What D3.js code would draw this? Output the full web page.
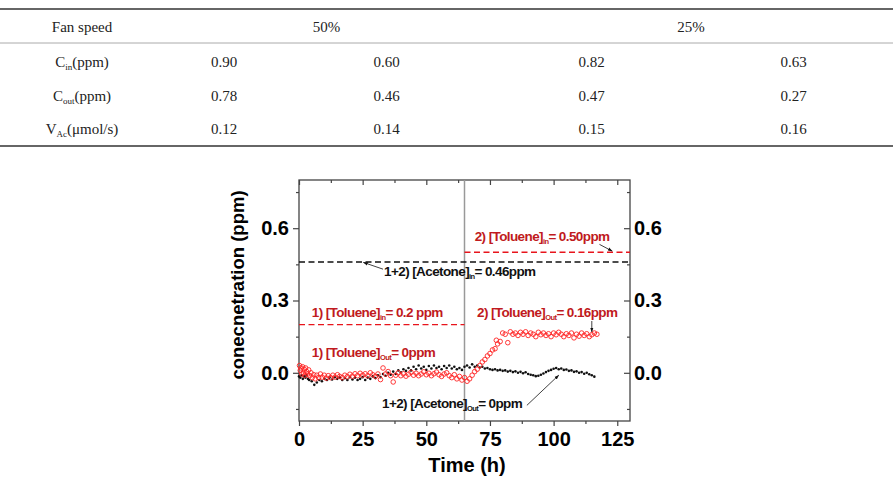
<!DOCTYPE html>
<meta charset="utf-8">
<body style="margin:0;background:#fff">
<script src="https://cdn.jsdelivr.net/npm/d3@7"></script>
<style>
svg { display:block; }
.tbl text { font-family: "Liberation Serif", "Times New Roman", serif; font-size: 15px; fill: #222; }
.ax text { font-family: "Liberation Sans", Arial, sans-serif; font-weight: bold; font-size: 20px; fill: #000; }
.ax path { display: none; }
.ax line { stroke: #444; stroke-width: 1.2; }
.note { font-family: "Liberation Sans", Arial, sans-serif; font-weight: bold; font-size: 13.5px; letter-spacing: -0.6px; }
.ttl { font-family: "Liberation Sans", Arial, sans-serif; font-weight: bold; }
</style>
<svg id="chart" width="893" height="484"></svg>
<script>
// ---- table values ----
var headLabels = ["Fan speed", "50%", "25%"];
var rowNames = [["C", "in", "(ppm)"], ["C", "out", "(ppm)"], ["V", "Ac", "(\u03bcmol/s)"]];
var cIn  = [0.90, 0.60, 0.82, 0.63];
var cOut = [0.78, 0.46, 0.47, 0.27];
var vAc  = [0.12, 0.14, 0.15, 0.16];

// ---- chart values ----
var tTol = [0.2, 0.5, 0.8, 1.1, 1.4, 1.7, 2.0, 2.3, 2.6, 3.0, 3.4, 3.8, 4.2, 4.7, 5.2, 5.8, 6.4, 7.0, 7.7, 8.4,
  9.1, 9.9, 10.7, 11.5, 12.4, 13.3, 14.2, 15.1, 16, 17, 18, 19, 20, 21, 22, 23, 24, 25, 26, 27, 28, 29, 30,
  31, 32, 33, 34, 35, 36, 37, 38, 39, 40, 41, 42, 43, 44, 45, 46, 47, 48, 49, 50, 51, 52, 53, 54, 55, 56,
  57, 58, 59, 60, 61, 62, 63, 64, 65, 66, 67, 68, 69, 70, 71, 72, 73, 74, 75, 76, 77, 77.5, 78, 79, 80, 81,
  82, 83, 84, 85, 86, 87, 88, 89, 90, 91, 92, 93, 94, 95, 96, 97, 98, 99, 100, 101, 102, 103, 104, 105,
  106, 107, 108, 109, 110, 111, 112, 113, 114, 115, 116, 117];
var tolOut = [0.03, 0.01, 0.02, -0.005, 0.025, 0.0, 0.015, -0.01, 0.02, 0.005, -0.005, 0.012, -0.012, 0.0, -0.02,
  -0.008, -0.025, -0.01, -0.02, -0.005, -0.018, -0.01, -0.022, -0.012, -0.02, -0.01, -0.018, -0.008, -0.015,
  -0.02, -0.01, -0.016, -0.006, -0.014, -0.004, -0.012, -0.002, -0.01, -0.004, -0.012, 0.0, -0.008, -0.015,
  -0.005, -0.028, 0.02, -0.005, 0.005, -0.012, -0.038, -0.01, 0.0, -0.012, -0.004, -0.014, -0.006, 0.002,
  -0.01, -0.002, -0.012, -0.005, 0.004, -0.008, -0.002, -0.012, -0.004, 0.003, -0.008, -0.015, -0.005, 0.0,
  -0.012, -0.02, -0.008, -0.025, -0.015, -0.03, -0.02, -0.035, -0.025, -0.01, 0.005, 0.015, 0.03, 0.045,
  0.055, 0.07, 0.08, 0.095, 0.1, 0.135, 0.12, 0.13, 0.165, 0.16, 0.125, 0.17, 0.16, 0.165, 0.155, 0.168,
  0.16, 0.17, 0.155, 0.165, 0.16, 0.15, 0.168, 0.158, 0.165, 0.155, 0.162, 0.15, 0.165, 0.158, 0.168, 0.16,
  0.15, 0.162, 0.155, 0.165, 0.145, 0.16, 0.152, 0.165, 0.155, 0.162, 0.15, 0.158, 0.165, 0.16];

var tAce = [0, 0.5, 1, 1.5, 2, 2.5, 3, 3.5, 4, 5, 6, 7, 8, 9, 10, 11, 12, 13, 14, 15, 16, 17, 18, 19, 20, 21,
  22, 23, 24, 25, 26, 27, 28, 29, 30, 31, 32, 33, 34, 35, 36, 37, 38, 39, 40, 41, 42, 43, 44, 45, 46, 47, 48,
  49, 50, 51, 52, 53, 54, 55, 56, 57, 58, 59, 60, 61, 62, 63, 64, 65, 66, 67, 68, 69, 70, 71, 72, 73, 74, 75,
  76, 77, 78, 79, 80, 81, 82, 83, 84, 85, 86, 87, 88, 89, 90, 91, 92, 93, 94, 95, 96, 97, 98, 99, 100, 101,
  102, 103, 104, 105, 106, 107, 108, 109, 110, 111, 112, 113, 114, 115, 116];
var aceOut = [-0.015, -0.02, -0.01, -0.025, -0.015, -0.02, -0.01, -0.025, -0.03, -0.035, -0.05, -0.04, -0.03,
  -0.035, -0.025, -0.03, -0.02, -0.028, -0.018, -0.025, -0.02, -0.03, -0.022, -0.03, -0.018, -0.028, -0.02,
  -0.03, -0.025, -0.018, -0.03, -0.02, -0.025, -0.015, -0.022, -0.01, -0.018, -0.005, -0.012, 0.0, -0.008,
  0.005, -0.005, 0.01, 0.002, 0.015, 0.008, 0.02, 0.01, 0.025, 0.015, 0.03, 0.018, 0.025, 0.012, 0.028, 0.018,
  0.03, 0.02, 0.025, 0.015, 0.028, 0.02, 0.03, 0.018, 0.025, 0.015, 0.02, 0.012, 0.025, 0.03, 0.022, 0.035,
  0.025, 0.03, 0.022, 0.025, 0.018, 0.02, 0.015, 0.012, 0.015, 0.01, 0.012, 0.008, 0.01, 0.005, 0.008, 0.003,
  0.006, 0.0, 0.004, -0.002, 0.002, -0.005, -0.008, -0.01, -0.014, -0.012, -0.008, -0.003, 0.003, 0.008,
  0.012, 0.017, 0.02, 0.015, 0.018, 0.012, 0.014, 0.008, 0.01, 0.004, 0.006, 0.0, 0.003, -0.004, 0.0, -0.006,
  -0.01, -0.016];

var switchTime = 65;          // feed changed from toluene 1) to 2)
var aceInLevel = 0.46;
var tolInLevel1 = 0.2;
var tolInLevel2 = 0.50;
var xMajor = [0, 25, 50, 75, 100, 125];
var xMinor = [12.5, 37.5, 62.5, 87.5, 112.5];
var yMajor = [0, 0.3, 0.6];
var yMinor = [-0.15, 0.15, 0.45, 0.75];

var svg = d3.select("#chart");

// ---------- table ----------
var colEdges = [0, 164, 284, 489, 694, 893];
var mid = function(a, b){ return (colEdges[a] + colEdges[b]) / 2 };
var tbl = svg.append("g").attr("class", "tbl");
tbl.append("line").attr("x1", 0).attr("x2", 893).attr("y1", 9).attr("y2", 9).attr("stroke", "#333").attr("stroke-width", 1.6);
tbl.append("line").attr("x1", 0).attr("x2", 893).attr("y1", 43).attr("y2", 43).attr("stroke", "#aaa").attr("stroke-width", 1);
tbl.append("line").attr("x1", 0).attr("x2", 893).attr("y1", 146).attr("y2", 146).attr("stroke", "#333").attr("stroke-width", 1.6);

var headX = [mid(0, 1), mid(1, 3), mid(3, 5)];
headLabels.forEach(function(h, i){
  tbl.append("text").attr("x", headX[i]).attr("y", 32).attr("text-anchor", "middle").text(h);
});

var rows = [cIn, cOut, vAc];
var rowY = [67, 101, 134];
rows.forEach(function(vals, r){
  var lab = tbl.append("text").attr("x", mid(0, 1)).attr("y", rowY[r]).attr("text-anchor", "middle");
  lab.append("tspan").text(rowNames[r][0]);
  lab.append("tspan").attr("dy", 3).attr("font-size", "9px").text(rowNames[r][1]);
  lab.append("tspan").attr("dy", -3).text(rowNames[r][2]);
  vals.forEach(function(v, c){
    tbl.append("text").attr("x", mid(c + 1, c + 2)).attr("y", rowY[r]).attr("text-anchor", "middle").text(v.toFixed(2));
  });
});

// ---------- chart ----------
var x = d3.scaleLinear().domain([0, 130]).range([299, 630]);
var y = d3.scaleLinear().domain([-0.2, 0.8]).range([421, 180]);
var g = svg.append("g");

svg.append("defs").append("marker").attr("id", "arr").attr("viewBox", "0 0 10 10")
  .attr("refX", 9).attr("refY", 5).attr("markerWidth", 6).attr("markerHeight", 6).attr("orient", "auto")
  .append("path").attr("d", "M0,1.5 L10,5 L0,8.5 z").attr("fill", "#111");

// axes
var f1 = d3.format(".1f");
g.append("g").attr("class", "ax").attr("transform", "translate(0,421)")
  .call(d3.axisBottom(x).tickValues(xMajor).tickSize(5).tickPadding(6));
g.append("g").attr("class", "ax").attr("transform", "translate(0,421)")
  .call(d3.axisBottom(x).tickValues(xMinor).tickSize(3).tickFormat(""));
g.append("g").attr("class", "ax").attr("transform", "translate(0,180)")
  .call(d3.axisTop(x).tickValues(xMajor).tickSize(-5).tickFormat(""));
g.append("g").attr("class", "ax").attr("transform", "translate(0,180)")
  .call(d3.axisTop(x).tickValues(xMinor).tickSize(-3).tickFormat(""));
g.append("g").attr("class", "ax").attr("transform", "translate(299,0)")
  .call(d3.axisLeft(y).tickValues(yMajor).tickSize(6).tickPadding(4).tickFormat(f1));
g.append("g").attr("class", "ax").attr("transform", "translate(299,0)")
  .call(d3.axisLeft(y).tickValues(yMinor).tickSize(3).tickFormat(""));
g.append("g").attr("class", "ax").attr("transform", "translate(630,0)")
  .call(d3.axisRight(y).tickValues(yMajor).tickSize(-6).tickPadding(4).tickFormat(f1));
g.append("g").attr("class", "ax").attr("transform", "translate(630,0)")
  .call(d3.axisRight(y).tickValues(yMinor).tickSize(-3).tickFormat(""));

g.append("rect").attr("x", x(0)).attr("y", y(0.8)).attr("width", x(130) - x(0)).attr("height", y(-0.2) - y(0.8))
  .attr("fill", "none").attr("stroke", "#444").attr("stroke-width", 1.3);

// switch line
g.append("line").attr("x1", x(switchTime)).attr("x2", x(switchTime)).attr("y1", y(0.8)).attr("y2", y(-0.2))
  .attr("stroke", "#999").attr("stroke-width", 1.5);

// inlet levels
g.append("line").attr("x1", x(0)).attr("x2", x(130)).attr("y1", y(aceInLevel)).attr("y2", y(aceInLevel))
  .attr("stroke", "#111").attr("stroke-width", 1.4).attr("stroke-dasharray", "6,3.5");
g.append("line").attr("x1", x(0)).attr("x2", x(switchTime)).attr("y1", y(tolInLevel1)).attr("y2", y(tolInLevel1))
  .attr("stroke", "#e8141c").attr("stroke-width", 1.4).attr("stroke-dasharray", "6,3.5");
g.append("line").attr("x1", x(switchTime)).attr("x2", x(130)).attr("y1", y(tolInLevel2)).attr("y2", y(tolInLevel2))
  .attr("stroke", "#e8141c").attr("stroke-width", 1.4).attr("stroke-dasharray", "6,3.5");

// data
g.append("g").selectAll("circle").data(tAce).join("circle")
  .attr("cx", function(d){ return x(d) }).attr("cy", function(d, i){ return y(aceOut[i]) })
  .attr("r", 1.3).attr("fill", "#111");
g.append("g").selectAll("circle").data(tTol).join("circle")
  .attr("cx", function(d){ return x(d) }).attr("cy", function(d, i){ return y(tolOut[i]) })
  .attr("r", 2.3).attr("fill", "none").attr("stroke", "#ff2424").attr("stroke-width", 0.9);

// titles
g.append("text").attr("class", "ttl").attr("x", 467).attr("y", 472).attr("text-anchor", "middle")
  .attr("font-size", "20px").text("Time (h)");
g.append("text").attr("class", "ttl").attr("transform", "translate(244,285) rotate(-90)")
  .attr("text-anchor", "middle").attr("font-size", "18.5px").text("conecnetration (ppm)");

// annotations
var red = "#c01a20";
function note(tx, ty, pre, sub, post, col){
  var t = g.append("text").attr("class", "note").attr("x", x(tx)).attr("y", y(ty)).attr("fill", col);
  t.append("tspan").text(pre);
  t.append("tspan").attr("dy", 3).attr("font-size", "7.5px").text(sub);
  t.append("tspan").attr("dy", -3).text(post);
}
function arrow(t1, v1, t2, v2){
  g.append("line").attr("x1", x(t1)).attr("y1", y(v1)).attr("x2", x(t2)).attr("y2", y(v2))
    .attr("stroke", "#111").attr("stroke-width", 0.8).attr("marker-end", "url(#arr)");
}
note(33.4, 0.402, "1+2) [Acetone]", "in", "= 0.46ppm", "#111");
note(5, 0.233, "1) [Toluene]", "in", "= 0.2 ppm", red);
note(69, 0.547, "2) [Toluene]", "in", "= 0.50ppm", red);
note(69.9, 0.233, "2) [Toluene]", "Out", "= 0.16ppm", red);
note(5, 0.066, "1) [Toluene]", "Out", "= 0ppm", red);
note(32.6, -0.146, "1+2) [Acetone]", "Out", "= 0ppm", "#111");

arrow(33, 0.43, 25.3, 0.458);
arrow(118, 0.533, 123, 0.505);
arrow(115, 0.215, 115, 0.17);
arrow(89.5, -0.135, 102, -0.01);
</script>
</body>
